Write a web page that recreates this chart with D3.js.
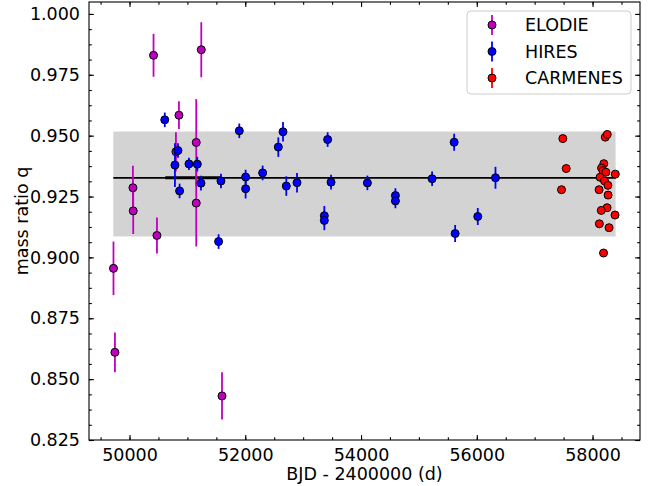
<!DOCTYPE html>
<html>
<head>
<meta charset="utf-8">
<script src="https://cdn.jsdelivr.net/npm/d3@7"></script>
<style>
  body { margin: 0; background: white; }
  svg text { font-family: "DejaVu Sans", sans-serif; }
</style>
</head>
<body>
<div id="chart"></div>
<script>
// Mass ratio per instrument

const elodieBJD = [50415, 51240, 50854, 51153, 50802, 50059, 50064, 51153, 50474, 49723, 49748, 51598];
const elodieQ = [0.9830, 0.9853, 0.9584, 0.9472, 0.9434, 0.9286, 0.9191, 0.9223, 0.9090, 0.8955, 0.8610, 0.8431];
const elodieErr = [0.0088, 0.0113, 0.0057, 0.0178, 0.0080, 0.0090, 0.0095, 0.0178, 0.0074, 0.0110, 0.0082, 0.0097];

const hiresBJD = [50609, 50837, 50785, 51027, 51171, 51235, 50865, 51580, 51897, 52006, 52006, 52300,
  52571, 52652, 52709, 51539, 52894, 53366, 53366, 53423, 53482, 54110, 54594, 54594, 55228, 55609,
  55626, 56017, 56323];
const hiresQ = [0.9565, 0.9439, 0.9379, 0.9384, 0.9383, 0.9305, 0.9273, 0.9314, 0.9520, 0.9330, 0.9282, 0.9347,
  0.9453, 0.9516, 0.9293, 0.9065, 0.9307, 0.9171, 0.9152, 0.9484, 0.9309, 0.9306, 0.9254, 0.9232, 0.9323, 0.9473,
  0.9098, 0.9168, 0.9327];
const hiresErr = [0.0030, 0.0030, 0.0090, 0.0025, 0.0030, 0.0030, 0.0030, 0.0030, 0.0030, 0.0030, 0.0040, 0.0030,
  0.0040, 0.0040, 0.0040, 0.0030, 0.0040, 0.0040, 0.0040, 0.0030, 0.0030, 0.0030, 0.0030, 0.0030, 0.0030, 0.0035,
  0.0035, 0.0035, 0.0045];

const carmenesBJD = [57487, 57545, 57464, 58220, 58254, 58195, 58156, 58180, 58230, 58393, 58130, 58207,
  58265, 58113, 58268, 58251, 58151, 58389, 58118, 58285, 58190];
const carmenesQ = [0.9488, 0.9365, 0.9278, 0.9494, 0.9505, 0.9385, 0.9367, 0.9356, 0.9350, 0.9342, 0.9329, 0.9314,
  0.9296, 0.9278, 0.9256, 0.9204, 0.9193, 0.9174, 0.9138, 0.9122, 0.9018];
const carmenesErr = carmenesQ.map(() => 0.001);

// weighted mean and its spread
const meanQ = 0.9327;
const bandQ = [0.9086, 0.9517];
const bandBJD = [49720, 58398];
const thickBJD = [50617, 51568];

const xTicks = [50000, 52000, 54000, 56000, 58000];
const yTicks = [0.825, 0.85, 0.875, 0.9, 0.925, 0.95, 0.975, 1.0];

const seriesNames = ["ELODIE", "HIRES", "CARMENES"];
const seriesColors = ["#bf00bf", "#0000ff", "#ff0000"];

const WIDTH = 656;
const HEIGHT = 486;
const margin = { left: 89, right: 16, top: 2, bottom: 46 };
const FONT = "17.5px";

/**
 * Build point records for one instrument
 */
function makeSeries(bjd, q, err) {
  return bjd.map((b, i) => ({ x: b, y: q[i], e: err[i] }));
}

const series = [
  makeSeries(elodieBJD, elodieQ, elodieErr),
  makeSeries(hiresBJD, hiresQ, hiresErr),
  makeSeries(carmenesBJD, carmenesQ, carmenesErr),
];

const xScale = d3.scaleLinear([49300, 58820], [margin.left, WIDTH - margin.right]);
const yScale = d3.scaleLinear([0.825, 1.0049], [HEIGHT - margin.bottom, margin.top]);

const svg = d3
  .select("#chart")
  .append("svg")
  .attr("width", WIDTH)
  .attr("height", HEIGHT);

// shaded band and mean line
svg.append("rect")
  .attr("x", xScale(bandBJD[0]))
  .attr("width", xScale(bandBJD[1]) - xScale(bandBJD[0]))
  .attr("y", yScale(bandQ[1]))
  .attr("height", yScale(bandQ[0]) - yScale(bandQ[1]))
  .attr("fill", "#d3d3d3");

svg.append("line")
  .attr("x1", xScale(bandBJD[0]))
  .attr("x2", xScale(bandBJD[1]))
  .attr("y1", yScale(meanQ))
  .attr("y2", yScale(meanQ))
  .attr("stroke", "black")
  .attr("stroke-width", 1.8);

svg.append("line")
  .attr("x1", xScale(thickBJD[0]))
  .attr("x2", xScale(thickBJD[1]))
  .attr("y1", yScale(meanQ))
  .attr("y2", yScale(meanQ))
  .attr("stroke", "black")
  .attr("stroke-width", 3);

// errorbars and markers
series.forEach((data, k) => {
  const g = svg.append("g");
  g.selectAll("line")
    .data(data)
    .enter()
    .append("line")
    .attr("x1", (d) => xScale(d.x))
    .attr("x2", (d) => xScale(d.x))
    .attr("y1", (d) => yScale(d.y - d.e))
    .attr("y2", (d) => yScale(d.y + d.e))
    .attr("stroke", seriesColors[k])
    .attr("stroke-width", 1.8);
  g.selectAll("circle")
    .data(data)
    .enter()
    .append("circle")
    .attr("cx", (d) => xScale(d.x))
    .attr("cy", (d) => yScale(d.y))
    .attr("r", 4)
    .attr("fill", seriesColors[k])
    .attr("stroke", "black")
    .attr("stroke-width", 1);
});

// axes, ticks pointing inwards on all four sides
const xMinor = d3.range(49500, 58801, 500);
const yMinor = d3.range(0, 29).map((i) => 0.825 + i * 0.00625).filter((v) => v < 1.0049);

function styleAxis(g) {
  g.select(".domain").remove();
  g.selectAll("line").attr("stroke", "black").attr("stroke-width", 1.1);
  g.selectAll("text").style("font-size", FONT).attr("fill", "black");
}

const bottom = HEIGHT - margin.bottom;
const right = WIDTH - margin.right;

svg.append("g")
  .attr("transform", `translate(0,${bottom})`)
  .call(d3.axisBottom(xScale).tickValues(xMinor).tickSize(-2.8).tickFormat(""))
  .call(styleAxis);
svg.append("g")
  .attr("transform", `translate(0,${bottom})`)
  .call(d3.axisBottom(xScale).tickValues(xTicks).tickSize(-4.9).tickPadding(9).tickFormat(d3.format("d")))
  .call(styleAxis);
svg.append("g")
  .attr("transform", `translate(0,${margin.top})`)
  .call(d3.axisTop(xScale).tickValues(xMinor).tickSize(-2.8).tickFormat(""))
  .call(styleAxis);
svg.append("g")
  .attr("transform", `translate(0,${margin.top})`)
  .call(d3.axisTop(xScale).tickValues(xTicks).tickSize(-4.9).tickFormat(""))
  .call(styleAxis);

svg.append("g")
  .attr("transform", `translate(${margin.left},0)`)
  .call(d3.axisLeft(yScale).tickValues(yMinor).tickSize(-2.8).tickFormat(""))
  .call(styleAxis);
svg.append("g")
  .attr("transform", `translate(${margin.left},0)`)
  .call(d3.axisLeft(yScale).tickValues(yTicks).tickSize(-4.9).tickPadding(9).tickFormat(d3.format(".3f")))
  .call(styleAxis);
svg.append("g")
  .attr("transform", `translate(${right},0)`)
  .call(d3.axisRight(yScale).tickValues(yMinor).tickSize(-2.8).tickFormat(""))
  .call(styleAxis);
svg.append("g")
  .attr("transform", `translate(${right},0)`)
  .call(d3.axisRight(yScale).tickValues(yTicks).tickSize(-4.9).tickFormat(""))
  .call(styleAxis);

// frame
svg.append("rect")
  .attr("x", margin.left)
  .attr("y", margin.top)
  .attr("width", right - margin.left)
  .attr("height", bottom - margin.top)
  .attr("fill", "none")
  .attr("stroke", "black")
  .attr("stroke-width", 1.1);

// labels
svg.append("text")
  .attr("x", (margin.left + right) / 2)
  .attr("y", 480)
  .attr("text-anchor", "middle")
  .style("font-size", FONT)
  .text("BJD - 2400000 (d)");

svg.append("text")
  .attr("transform", `translate(28,${(margin.top + bottom) / 2}) rotate(-90)`)
  .attr("text-anchor", "middle")
  .style("font-size", FONT)
  .text("mass ratio q");

// legend
const legend = svg.append("g").attr("transform", "translate(467,11)");
legend.append("rect")
  .attr("width", 164)
  .attr("height", 83)
  .attr("rx", 4)
  .attr("fill", "white")
  .attr("fill-opacity", 0.8)
  .attr("stroke", "#cccccc");

seriesNames.forEach((name, k) => {
  const cy = 14 + k * 26.5;
  legend.append("line")
    .attr("x1", 25).attr("x2", 25)
    .attr("y1", cy - 10).attr("y2", cy + 10)
    .attr("stroke", seriesColors[k])
    .attr("stroke-width", 1.8);
  legend.append("circle")
    .attr("cx", 25).attr("cy", cy).attr("r", 4)
    .attr("fill", seriesColors[k])
    .attr("stroke", "black");
  legend.append("text")
    .attr("x", 58)
    .attr("y", cy)
    .attr("dy", "0.36em")
    .style("font-size", FONT)
    .text(name);
});
</script>
</body>
</html>
